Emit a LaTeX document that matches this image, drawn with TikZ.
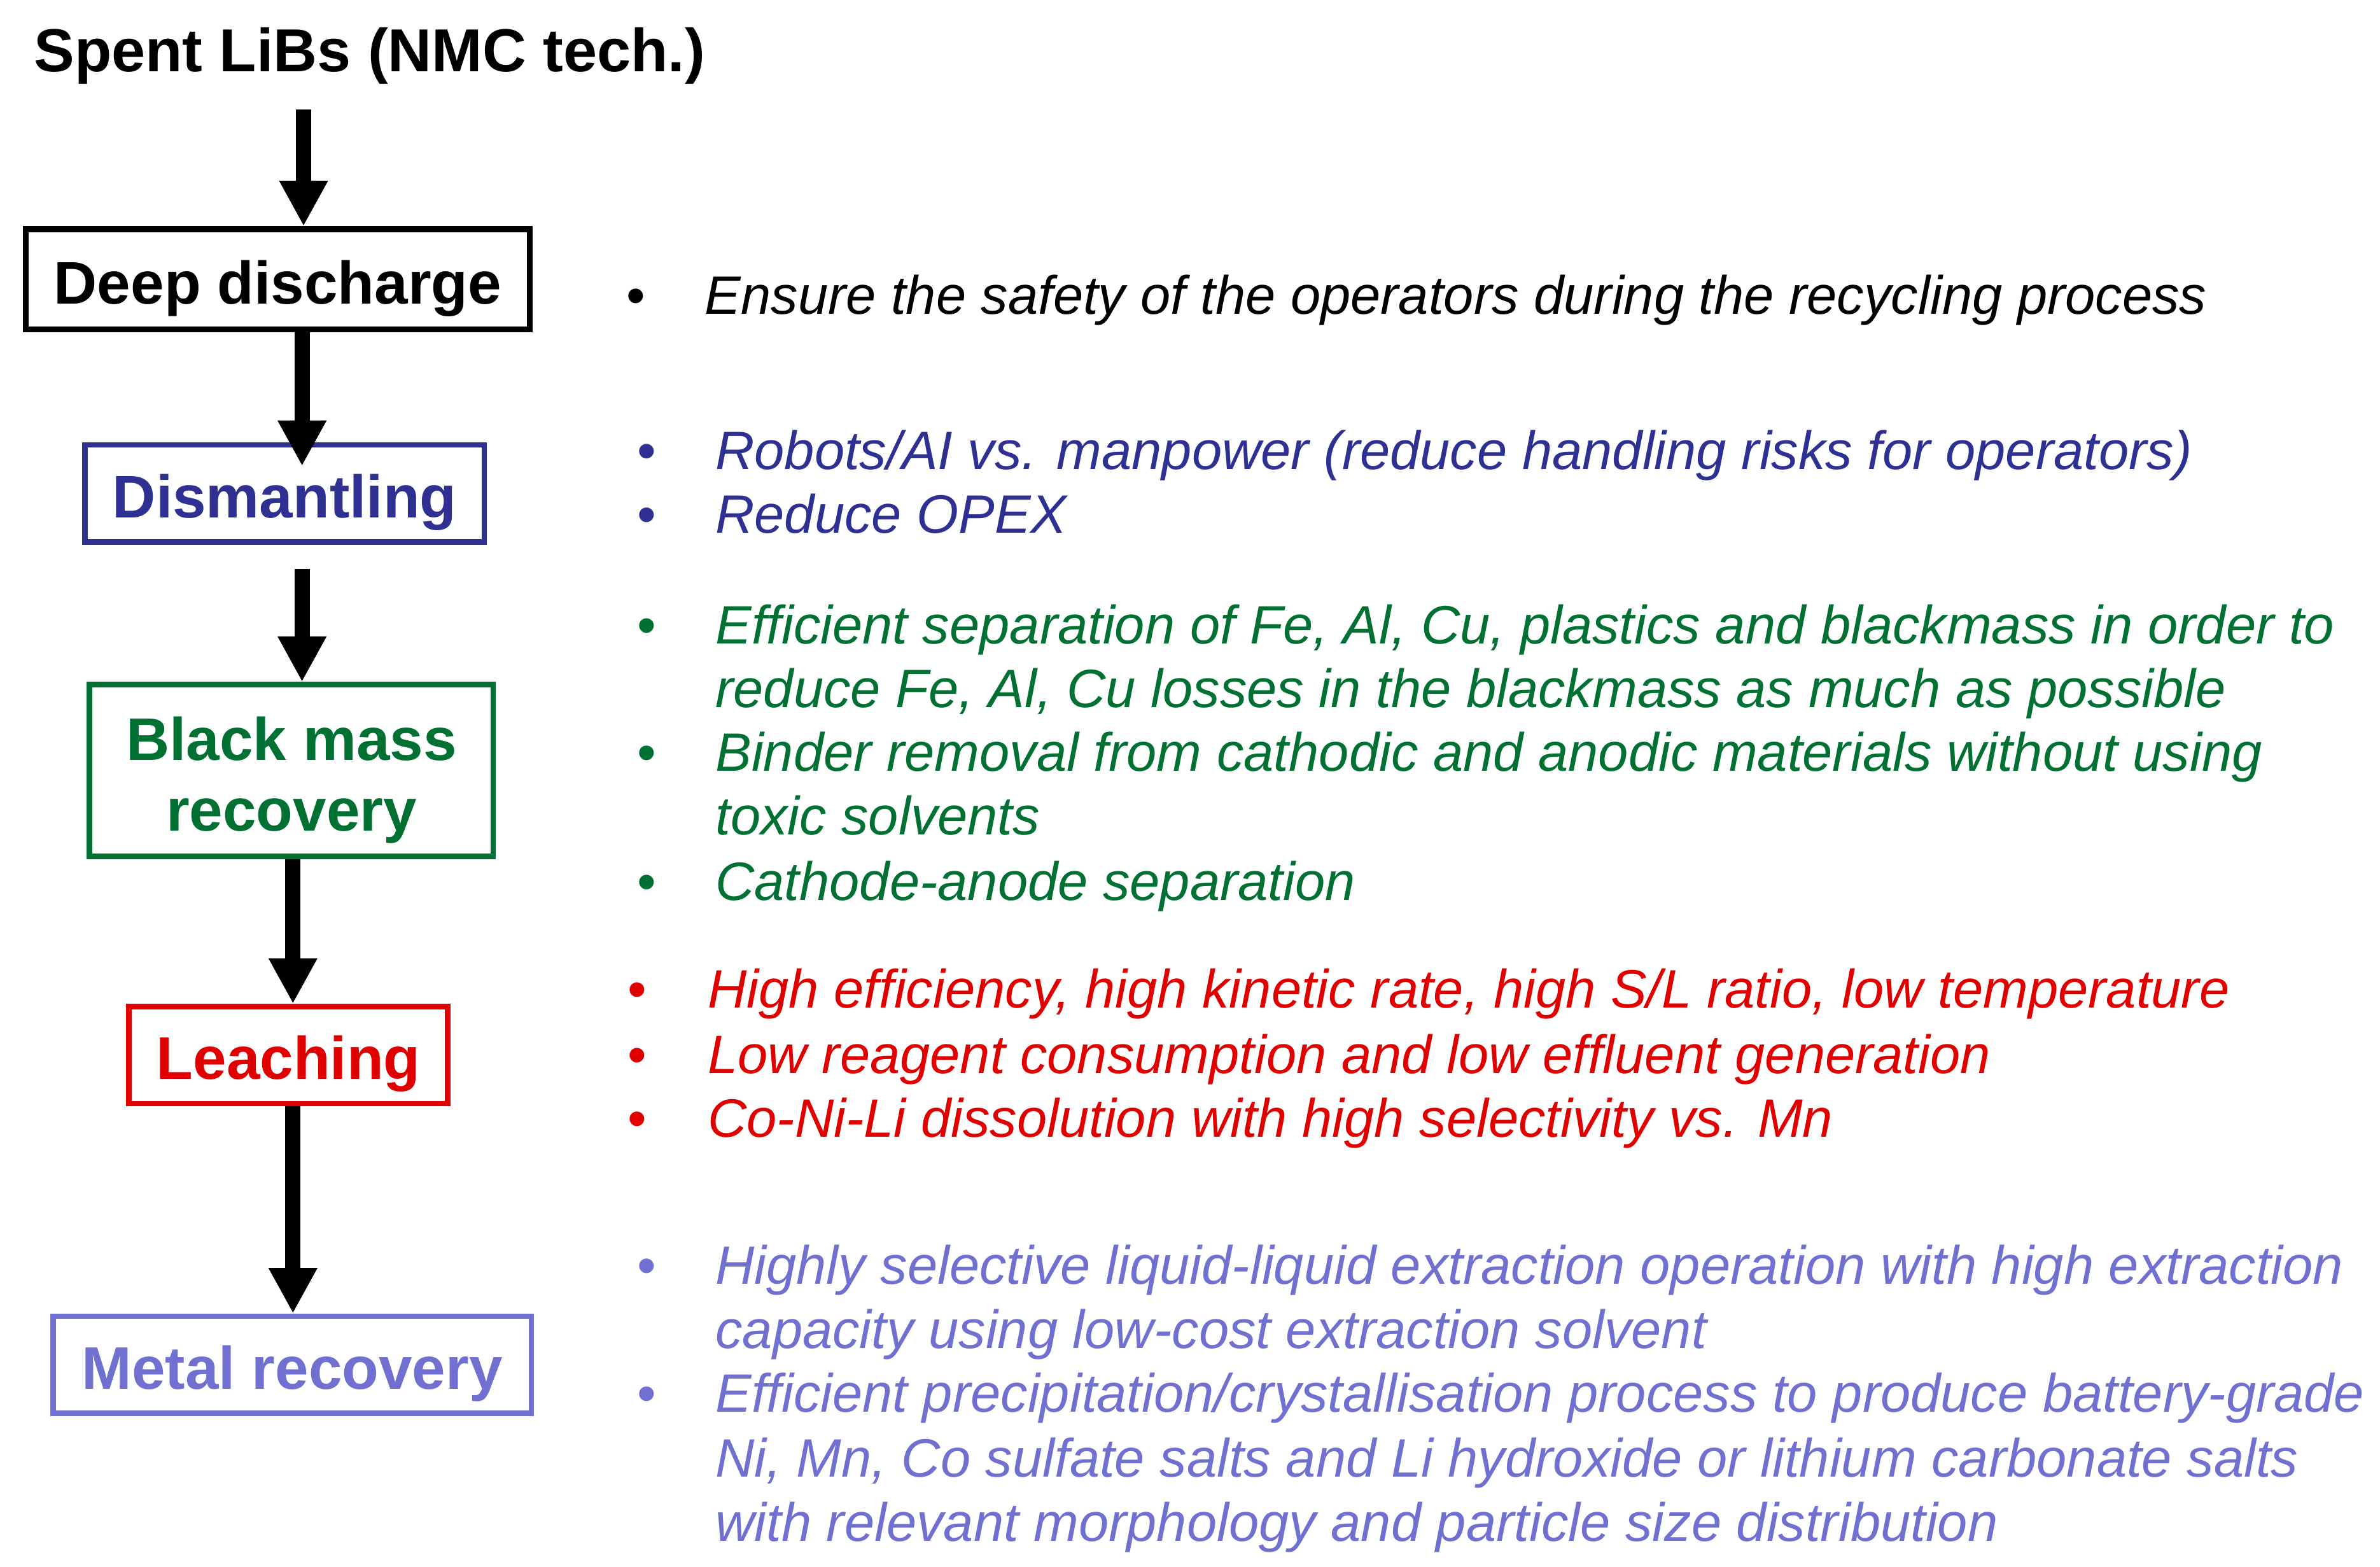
\documentclass[tikz,border=0pt]{standalone}
\usepackage{fontspec}
\setmainfont{Liberation Sans}
\usetikzlibrary{arrows.meta}
\definecolor{cblue}{HTML}{2E3192}
\definecolor{cgreen}{HTML}{007033}
\definecolor{cred}{HTML}{E00000}
\definecolor{cpurp}{HTML}{7070D0}
\begin{document}
\begin{tikzpicture}[x=0.5pt,y=-0.5pt,
  boxbase/.style={draw, line width=1.8pt, inner sep=0pt, align=center,
    font=\fontsize{19.8}{23.25}\selectfont\bfseries},
  onebox/.style={boxbase, text height=16pt, text depth=0pt},
  bigarrow/.style={line width=5pt, -{Triangle[width=15pt,length=15pt]}},
  item/.style={anchor=base west, inner sep=0pt, font=\fontsize{17.8}{21}\selectfont\itshape},
  bul/.style={anchor=base, inner sep=0pt, font=\fontsize{17.8}{21}\selectfont}]
\fill[white] (0,0) rectangle (1568,1032);
\useasboundingbox (0,0) rectangle (1568,1032);

% title
\node[anchor=base west, inner sep=0pt, font=\fontsize{20}{24}\selectfont\bfseries] (title) at (22,47) {Spent LiBs (NMC tech.)};

% boxes
\node[onebox, line width=2pt, minimum width=166pt, minimum height=33pt] (dd) at (183,184) {Deep discharge};
\node[onebox, draw=cblue, text=cblue, minimum width=131.5pt, minimum height=32pt] (dis) at (187.5,325) {Dismantling};
\node[boxbase, draw=cgreen, text=cgreen, minimum width=133pt, minimum height=56.5pt] (bmr) at (192,507.5) {\rule{0pt}{20.5pt}Black mass\\recovery};
\node[onebox, draw=cred, text=cred, minimum width=105pt, minimum height=32pt] (leach) at (190,695) {Leaching};
\node[onebox, draw=cpurp, text=cpurp, minimum width=157.5pt, minimum height=32pt] (metal) at (192.5,899) {Metal recovery};

% arrows
\coordinate (a1s) at (200,72);
\coordinate (a2e) at (199,307);
\coordinate (a3s) at (199,375);
\coordinate (a45) at (193,600);
\draw[bigarrow] (a1s) -- (a1s |- dd.north);
\draw[bigarrow] (dd.south -| a2e) -- (a2e);
\draw[bigarrow] (a3s) -- (a3s |- bmr.north);
\draw[bigarrow] (bmr.south -| a45) -- (a45 |- leach.north);
\draw[bigarrow] (leach.south -| a45) -- (a45 |- metal.north);

% black
\node[bul] (b1) at (419,207) {•};
\node[item] (t1) at (464,207) {Ensure the safety of the operators during the recycling process};

% blue
\begin{scope}[every node/.append style={text=cblue}]
\node[bul] (b2) at (426,309) {•};
\node[item] (t2) at (471,309) {Robots/AI vs. manpower (reduce handling risks for operators)};
\node[bul] (b3) at (426,351) {•};
\node[item] (t3) at (471,351) {Reduce OPEX};
\end{scope}

% green
\begin{scope}[every node/.append style={text=cgreen}]
\node[bul] (b4) at (426,424) {•};
\node[item] (t4) at (471,424) {Efficient separation of Fe, Al, Cu, plastics and blackmass in order to};
\node[item] (t4b) at (471,466) {reduce Fe, Al, Cu losses in the blackmass as much as possible};
\node[bul] (b5) at (426,508) {•};
\node[item] (t5) at (471,508) {Binder removal from cathodic and anodic materials without using};
\node[item] (t5b) at (471,550) {toxic solvents};
\node[bul] (b6) at (426,593) {•};
\node[item] (t6) at (471,593) {Cathode-anode separation};
\end{scope}

% red
\begin{scope}[every node/.append style={text=cred}]
\node[bul] (b7) at (420,664) {•};
\node[item] (t7) at (466,664) {High efficiency, high kinetic rate, high S/L ratio, low temperature};
\node[bul] (b8) at (420,707) {•};
\node[item] (t8) at (466,707) {Low reagent consumption and low effluent generation};
\node[bul] (b9) at (420,749) {•};
\node[item] (t9) at (466,749) {Co-Ni-Li dissolution with high selectivity vs. Mn};
\end{scope}

% purple
\begin{scope}[every node/.append style={text=cpurp}]
\node[bul] (b10) at (426,846) {•};
\node[item] (t10) at (471,846) {Highly selective liquid-liquid extraction operation with high extraction};
\node[item] (t10b) at (471,888) {capacity using low-cost extraction solvent};
\node[bul] (b11) at (426,930) {•};
\node[item] (t11) at (471,930) {Efficient precipitation/crystallisation process to produce battery-grade};
\node[item] (t11b) at (471,973) {Ni, Mn, Co sulfate salts and Li hydroxide or lithium carbonate salts};
\node[item] (t11c) at (471,1015) {with relevant morphology and particle size distribution};
\end{scope}
\end{tikzpicture}
\end{document}
